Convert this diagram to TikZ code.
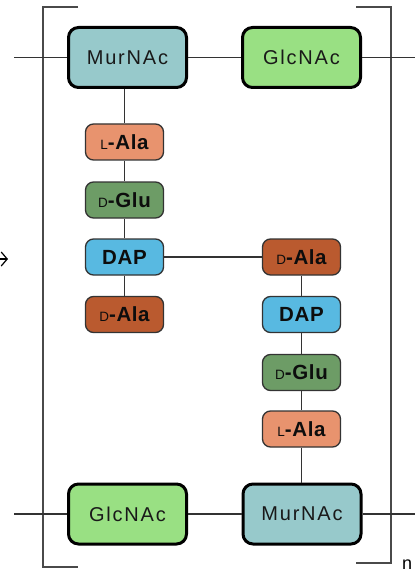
\documentclass[tikz,border=0pt]{standalone}
\usepackage{fontspec}
\setmainfont{Liberation Sans}
\usetikzlibrary{arrows.meta}
\definecolor{murc}{HTML}{97C9CB}
\definecolor{glcc}{HTML}{99E083}
\definecolor{lalac}{HTML}{E8936E}
\definecolor{dgluc}{HTML}{6D9C66}
\definecolor{dapc}{HTML}{58B9E1}
\definecolor{dalac}{HTML}{BA5A2F}
\definecolor{linec}{HTML}{333333}
\definecolor{brkc}{HTML}{4A4A4A}
\newcommand{\smc}[1]{{\fontsize{13.5}{13.5}\selectfont\mdseries #1}}
\tikzset{
  sugar/.style={draw=black, line width=3pt, rounded corners=10pt,
    minimum width=118pt, minimum height=60pt, inner sep=0pt,
    font=\fontsize{20}{20}\selectfont\addfontfeature{LetterSpace=9}, text=black!90},
  amino/.style={draw=linec, line width=1.3pt, rounded corners=8pt,
    minimum width=78pt, minimum height=36pt, inner sep=0pt,
    font=\fontsize{20.5}{20.5}\selectfont\bfseries\addfontfeature{LetterSpace=3}, text=black!95},
  link/.style={draw=linec, line width=1.3pt},
  brk/.style={draw=brkc, line width=1.5pt},
}
\begin{document}
\begin{tikzpicture}[x=1pt,y=-1pt]
\useasboundingbox (0,0) rectangle (415,572);
% brackets
\draw[brk] (78,7) -- (43,7) -- (43,567) -- (78,567);
\draw[brk] (356,7) -- (391,7) -- (391,563) -- (356,563);
\node[anchor=base, font=\fontsize{18}{18}\selectfont, inner sep=0pt] (nlab) at (407,569) {n};
% arrow at left edge
\coordinate (arrs) at (-20,259);
\coordinate (arre) at (8,259);
\draw[line width=1.2pt, -{Straight Barb[length=6pt,width=14pt]}] (arrs) -- (arre);
% nodes
\node[sugar, fill=murc] (mur1) at (127.5,57.5) {MurNAc};
\node[sugar, fill=glcc] (glc1) at (301.5,57.5) {GlcNAc};
\node[amino, fill=lalac] (la1) at (124.5,142) {\smc{L}-Ala};
\node[amino, fill=dgluc] (dg1) at (124.5,200) {\smc{D}-Glu};
\node[amino, fill=dapc] (dap1) at (124.5,257) {DAP};
\node[amino, fill=dalac] (da1) at (124.5,314.5) {\smc{D}-Ala};
\node[amino, fill=dalac] (da2) at (301.5,257) {\smc{D}-Ala};
\node[amino, fill=dapc] (dap2) at (301.5,314.5) {DAP};
\node[amino, fill=dgluc] (dg2) at (301.5,372.5) {\smc{D}-Glu};
\node[amino, fill=lalac] (la2) at (301.5,429) {\smc{L}-Ala};
\node[sugar, fill=glcc] (glc2) at (127.5,514) {GlcNAc};
\node[sugar, fill=murc] (mur2) at (302,514) {MurNAc};
% chain ends
\coordinate (tl) at (14,57.5);
\coordinate (tr) at (415,57.5);
\coordinate (bl) at (14,514);
\coordinate (br) at (415,514);
% connectors
\draw[link] (tl) -- (mur1);
\draw[link] (mur1) -- (glc1);
\draw[link] (glc1) -- (tr);
\draw[link] (bl) -- (glc2);
\draw[link] (glc2) -- (mur2);
\draw[link] (mur2) -- (br);
\draw[link] (la1 |- mur1.south) -- (la1);
\draw[link] (la1) -- (dg1);
\draw[link] (dg1) -- (dap1);
\draw[link] (dap1) -- (da1);
\draw[link] (dap1) -- (da2);
\draw[link] (da2) -- (dap2);
\draw[link] (dap2) -- (dg2);
\draw[link] (dg2) -- (la2);
\draw[link] (la2) -- (la2 |- mur2.north);
\end{tikzpicture}
\end{document}
